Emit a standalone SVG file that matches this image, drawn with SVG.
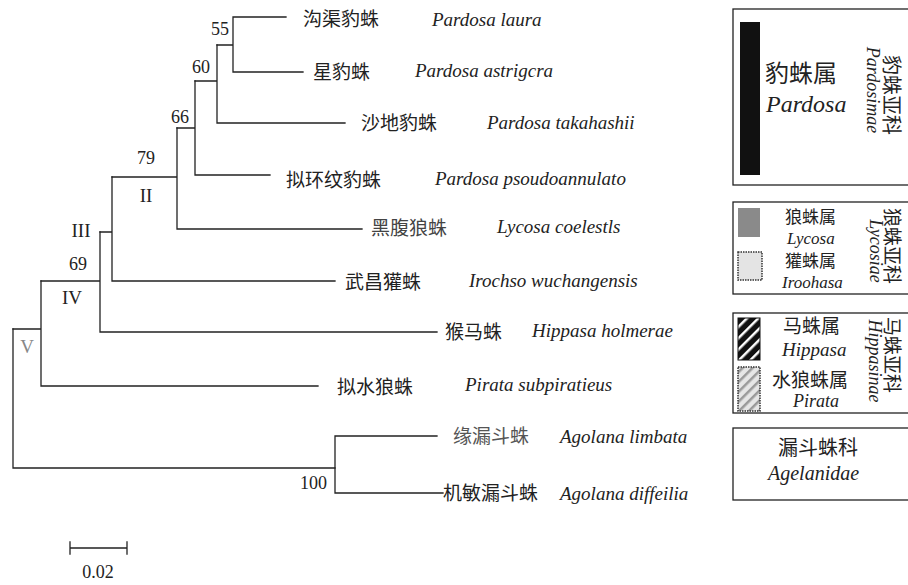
<svg xmlns="http://www.w3.org/2000/svg" width="908" height="585" viewBox="0 0 908 585">
<style>
.ln{stroke:#222;stroke-width:1.3;fill:none;stroke-linecap:square}
.cn{font-family:"Noto Sans CJK SC","Noto Sans CJK TC",sans-serif;fill:#222}
.la{font-family:"Liberation Serif","Times New Roman",serif;font-style:italic;fill:#222}
.num{font-family:"Liberation Serif","Times New Roman",serif;font-size:18px;fill:#222}
.rom{font-family:"Liberation Serif","Times New Roman",serif;font-size:19px;fill:#222}
.box{fill:#fff;stroke:#222;stroke-width:1.3}
</style>
<defs>
<pattern id="hip" patternUnits="userSpaceOnUse" width="8" height="8" patternTransform="rotate(-45)">
<rect width="8" height="8" fill="#111"/><rect width="8" height="2.5" fill="#fff"/>
</pattern>
<pattern id="pir" patternUnits="userSpaceOnUse" width="7" height="7" patternTransform="rotate(-45)">
<rect width="7" height="7" fill="#e6e6e6"/><rect width="7" height="2.5" fill="#999"/>
</pattern>
</defs>
<rect width="908" height="585" fill="#fff"/>

<g id="connectors">
<path class="ln" d="M233,17 H286 M233,72 H303 M233,17 V72 M217,45 H233"/>
<path class="ln" d="M217,45 V123 M217,123 H345 M195,81 H217"/>
<path class="ln" d="M195,81 V175 M195,175 H270 M177,128 H195"/>
<path class="ln" d="M177,128 V229 M177,229 H362 M112,177 H177"/>
<path class="ln" d="M112,177 V281 M112,281 H335 M100,232 H112"/>
<path class="ln" d="M100,232 V332 M100,332 H437 M41,281 H100"/>
<path class="ln" d="M41,281 V386 M41,386 H318 M13,329 H41"/>
<path class="ln" d="M13,329 V468 H335"/>
<path class="ln" d="M335,436 V493 M335,436 H437 M335,493 H443"/>
</g>

<g id="support-labels">
<text class="num" x="229" y="35" text-anchor="end">55</text>
<text class="num" x="210" y="73" text-anchor="end">60</text>
<text class="num" x="189" y="123" text-anchor="end">66</text>
<text class="num" x="155" y="164" text-anchor="end">79</text>
<text class="rom" x="146" y="202" text-anchor="middle">II</text>
<text class="rom" x="81" y="237" text-anchor="middle">III</text>
<text class="num" x="87" y="270" text-anchor="end">69</text>
<text class="rom" x="72" y="304" text-anchor="middle">IV</text>
<text class="rom" x="27" y="353" text-anchor="middle" style="fill:#888">V</text>
<text class="num" x="327" y="489" text-anchor="end">100</text>
</g>

<g id="leaf-laura"><text class="cn" x="303" y="26" font-size="19">沟渠豹蛛</text><text class="la" x="432" y="26" font-size="19">Pardosa laura</text></g>
<g id="leaf-astrigcra"><text class="cn" x="313" y="79" font-size="19">星豹蛛</text><text class="la" x="415" y="77" font-size="19">Pardosa astrigcra</text></g>
<g id="leaf-takahashii"><text class="cn" x="361" y="130" font-size="19">沙地豹蛛</text><text class="la" x="487" y="129" font-size="19">Pardosa takahashii</text></g>
<g id="leaf-psoudoannulato"><text class="cn" x="286" y="187" font-size="19">拟环纹豹蛛</text><text class="la" x="435" y="185" font-size="19">Pardosa psoudoannulato</text></g>
<g id="leaf-coelestls"><text class="cn" x="371" y="235" font-size="19" style="fill:#444">黑腹狼蛛</text><text class="la" x="497" y="233" font-size="19">Lycosa coelestls</text></g>
<g id="leaf-wuchangensis"><text class="cn" x="345" y="289" font-size="19">武昌獾蛛</text><text class="la" x="469" y="287" font-size="19">Irochso wuchangensis</text></g>
<g id="leaf-holmerae"><text class="cn" x="445" y="339" font-size="19">猴马蛛</text><text class="la" x="532" y="337" font-size="19">Hippasa holmerae</text></g>
<g id="leaf-subpiratieus"><text class="cn" x="337" y="394" font-size="19">拟水狼蛛</text><text class="la" x="465" y="391" font-size="19">Pirata subpiratieus</text></g>
<g id="leaf-limbata"><text class="cn" x="453" y="443" font-size="19" style="fill:#555">缘漏斗蛛</text><text class="la" x="560" y="443" font-size="19">Agolana limbata</text></g>
<g id="leaf-diffeilia"><text class="cn" x="443" y="500" font-size="19">机敏漏斗蛛</text><text class="la" x="560" y="500" font-size="19">Agolana diffeilia</text></g>

<g id="scale-bar">
<path class="ln" d="M70,548 H127 M70,542 V554 M127,542 V554"/>
<text class="num" x="98" y="578" text-anchor="middle">0.02</text>
</g>

<g id="legend-pardosinae">
<rect class="box" x="733" y="9" width="180" height="176"/>
<rect x="740" y="22" width="20" height="153" fill="#111"/>
<text class="cn" x="765" y="82" font-size="24">豹蛛属</text>
<text class="la" x="766" y="112" font-size="24">Pardosa</text>
<text class="la" font-size="18" text-anchor="middle" transform="translate(867,90) rotate(90)">Pardosimae</text>
<text class="cn" font-size="20" text-anchor="middle" transform="translate(884,95) rotate(90)">豹蛛亚科</text>
</g>

<g id="legend-lycosinae">
<rect class="box" x="733" y="202" width="180" height="92"/>
<rect x="738" y="208" width="22" height="29" fill="#8a8a8a"/>
<text class="cn" x="785" y="223" font-size="17">狼蛛属</text>
<text class="la" x="787" y="243.5" font-size="17">Lycosa</text>
<rect x="738" y="252" width="24" height="28" fill="#e4e4e4" stroke="#333" stroke-width="1.5" stroke-dasharray="1.5 1"/>
<text class="cn" x="785" y="267" font-size="17">獾蛛属</text>
<text class="la" x="782" y="287.5" font-size="17">Iroohasa</text>
<text class="la" font-size="18" text-anchor="middle" transform="translate(870,251) rotate(90)">Lycosiae</text>
<text class="cn" font-size="19" text-anchor="middle" transform="translate(885,246) rotate(90)">狼蛛亚科</text>
</g>

<g id="legend-hippasinae">
<rect class="box" x="733" y="313" width="180" height="100"/>
<rect x="738" y="318" width="22" height="42" fill="url(#hip)" stroke="#111" stroke-width="1"/>
<text class="cn" x="783" y="333" font-size="19">马蛛属</text>
<text class="la" x="782" y="356" font-size="19">Hippasa</text>
<rect x="738" y="367" width="22" height="44" fill="url(#pir)" stroke="#333" stroke-width="1.5" stroke-dasharray="1.5 1"/>
<text class="cn" x="772" y="387" font-size="19">水狼蛛属</text>
<text class="la" x="793" y="407" font-size="18">Pirata</text>
<text class="la" font-size="18" text-anchor="middle" transform="translate(869,361) rotate(90)">Hippasinae</text>
<text class="cn" font-size="19" text-anchor="middle" transform="translate(885,355) rotate(90)">马蛛亚科</text>
</g>

<g id="legend-agelenidae">
<rect class="box" x="733" y="428" width="180" height="72"/>
<text class="cn" x="778" y="455" font-size="20">漏斗蛛科</text>
<text class="la" x="768" y="480" font-size="20">Agelanidae</text>
</g>
</svg>
